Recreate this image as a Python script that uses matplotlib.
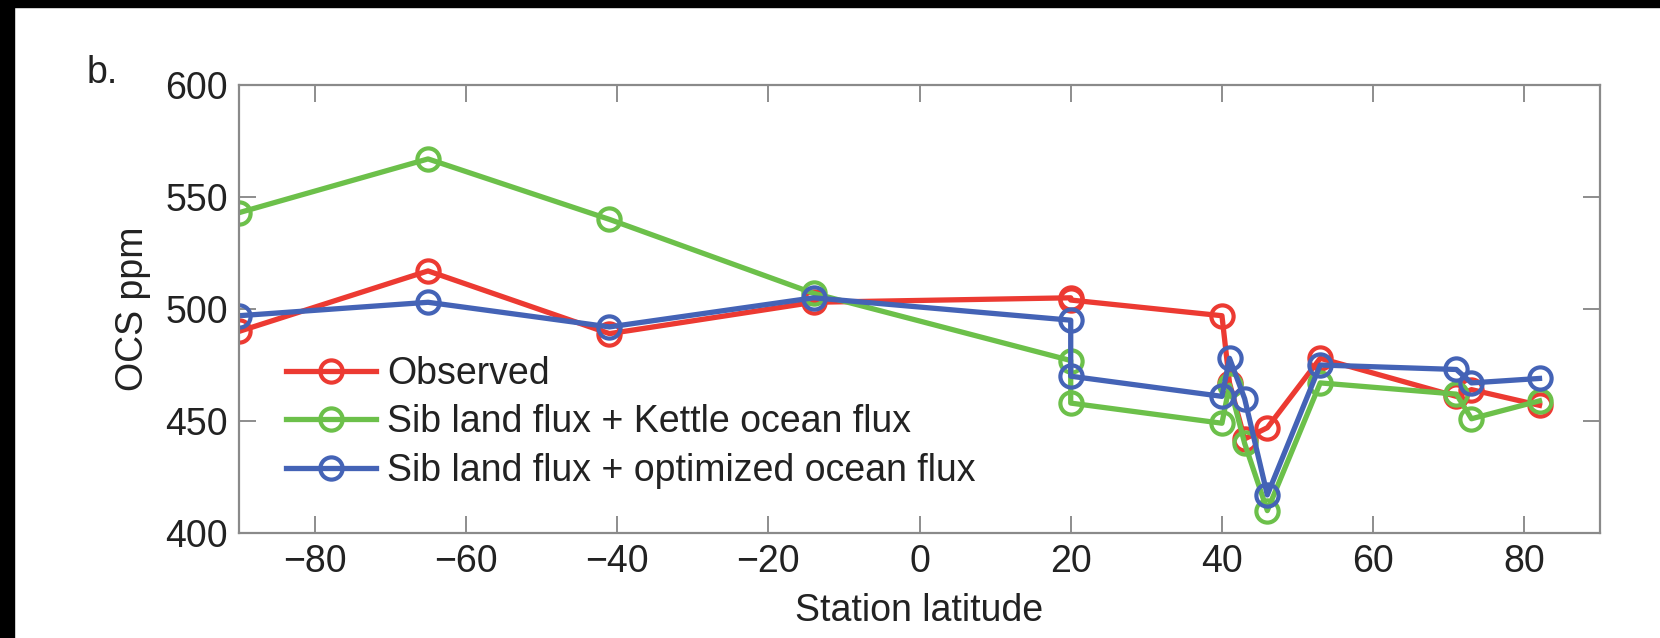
import matplotlib
matplotlib.use("Agg")
import matplotlib.pyplot as plt
from matplotlib.patches import Rectangle

# ---- data ----
latitude = [-90, -65, -41, -14, 20, 20, 40, 41, 43, 46, 53, 71, 73, 82]
observed = [490, 517, 489, 503, 505, 504, 497, 467, 442, 447, 478, 461, 464, 457]
kettle = [543, 567, 540, 507, 477, 458, 449, 466, 440, 410, 467, 462, 451, 459]
optimized = [497, 503, 492, 505, 495, 470, 461, 478, 460, 417, 475, 473, 467, 469]

series_labels = ["Observed",
                 "Sib land flux + Kettle ocean flux",
                 "Sib land flux + optimized ocean flux"]
x_ticks = [-80, -60, -40, -20, 0, 20, 40, 60, 80]
y_ticks = [400, 450, 500, 550, 600]

colors = ["#ec3a32", "#6cc04a", "#4463b6"]

plt.rcParams['font.family'] = ['Liberation Sans', 'DejaVu Sans']

FS = 27
W, H = 1660, 638
fig = plt.figure(figsize=(W / 100, H / 100), dpi=100)
ax = fig.add_axes([239 / W, 1 - 533 / H, (1600 - 239) / W, (533 - 85) / H])

for y, c, lab in zip([observed, kettle, optimized], colors, series_labels):
    ax.plot(latitude, y, '-o', color=c, lw=3.8, ms=16, mew=3.0,
            mfc='none', mec=c, label=lab)

ax.set_xlim(-90, 90)
ax.set_ylim(400, 600)
ax.set_xticks(x_ticks)
ax.set_yticks(y_ticks)
ax.tick_params(direction='in', length=12, width=1.2, color='#7a7a7a',
               top=True, right=True, labelsize=FS, labelcolor='#222222', pad=8)
for s in ax.spines.values():
    s.set_color('#8a8a8a')
    s.set_linewidth(1.6)

ax.set_xlabel("Station latitude", fontsize=FS, color='#222222', labelpad=9)
ax.set_ylabel("OCS ppm", fontsize=FS, color='#222222', labelpad=10)

leg = ax.legend(loc='upper left', bbox_to_anchor=(0.0345, 0.395),
                frameon=False, fontsize=FS, borderpad=0, borderaxespad=0,
                handlelength=2.4, handletextpad=0.3, labelspacing=0.33)
for t in leg.get_texts():
    t.set_color('#222222')

fig.text(87 / W, 1 - 83 / H, "b.", fontsize=FS, color='#222222',
         ha='left', va='baseline')

# black border bands at top and left of the reference image
fig.patches.append(Rectangle((0, 1 - 7 / H), 1, 7 / H, transform=fig.transFigure,
                             color='black', zorder=10))
fig.patches.append(Rectangle((0, 0), 14 / W, 1, transform=fig.transFigure,
                             color='black', zorder=10))

fig.savefig("out.png", dpi=100, facecolor='white')
